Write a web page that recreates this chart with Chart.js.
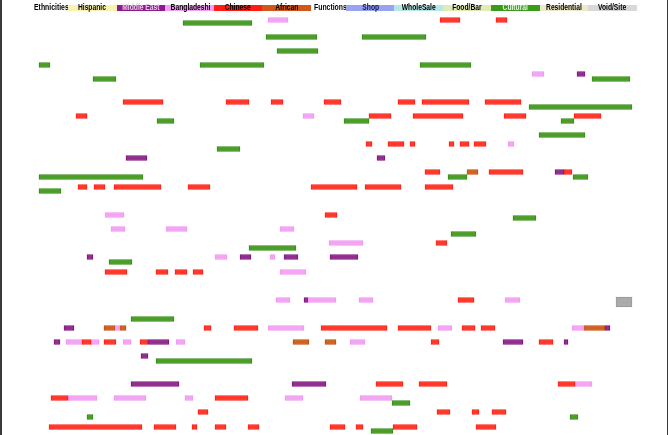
<!DOCTYPE html>
<html>
<head>
<meta charset="utf-8">
<script src="https://cdn.jsdelivr.net/npm/chart.js@4.4.1/dist/chart.umd.min.js"></script>
<style>
  html, body { margin: 0; padding: 0; background: #fff; overflow: hidden; }
  #wrap { position: relative; width: 668px; height: 435px; }
  #frameL { position: absolute; left: 0; top: 0; width: 2px; height: 435px; background: #3a3a3a; z-index: 3; }
  #frameR { position: absolute; right: 0; top: 0; width: 1px; height: 435px; background: #3a3a3a; z-index: 3; }
  #chart { position: absolute; left: 0; top: 0; }
  #legend { position: absolute; left: 0; top: 1px; width: 668px; height: 12px; z-index: 2;
            font-family: "Liberation Sans", Arial, sans-serif; font-size: 8.6px; font-weight: bold; color: #000; }
  #legend .lab, #legend .item { position: absolute; top: 0; height: 12px; line-height: 12px; white-space: nowrap; }
  #legend .lab span { display: inline-block; transform: scaleX(0.8); transform-origin: left center; }
  #legend .item { width: 48.5px; text-align: center; }
  #legend .item .box { position: absolute; left: 0; right: 0; top: 3.5px; height: 6px; }
  #legend .item span { position: relative; display: inline-block; transform: scaleX(0.78); }
</style>
</head>
<body>
<div id="wrap">
  <canvas id="chart" width="668" height="435"></canvas>
  <div id="legend"></div>
  <div id="frameL"></div>
  <div id="frameR"></div>
</div>
<script>
// ---- Data: each segment is [row position, start, end] along the street plan ----
const ethnicityLabels = ["Hispanic", "Middle East", "Bangladeshi", "Chinese", "African"];
const functionLabels  = ["Shop", "WholeSale", "Food/Bar", "Cultural", "Residential", "Void/Site"];

const cultural = [
  [23,183,252],[37,266,317],[37,362,426],[51,277,318],[65,39,50],[65,200,264],[65,420,471],
  [79,93,116],[79,592,630],[107,529,632],[121,157,174],[121,344,369],[121,561,574],[135,539,585],
  [149,217,240],[177,39,143],[177,448,467],[177,573,588],[191,39,61],[218,513,536],[234,451,476],
  [248,249,296],[262,109,132],[319,131,174],[361,156,252],[403,392,410],[417,87,93],[417,570,578],[431,371,393]
];
const chinese = [
  [20,440,460],[20,496,507],
  [102,123,163],[102,226,249],[102,271,283],[102,324,341],[102,398,415],[102,422,469],[102,485,521],
  [116,76,87],[116,369,391],[116,413,463],[116,504,526],[116,574,601],
  [144,366,372],[144,388,404],[144,410,415],[144,449,454],[144,460,469],[144,474,486],
  [172,425,440],[172,489,523],[172,564,572],
  [187,78,87],[187,94,105],[187,114,161],[187,188,210],[187,311,357],[187,365,401],[187,425,453],
  [215,325,337],[243,436,447],
  [272,105,127],[272,156,168],[272,175,187],[272,193,203],
  [300,458,474],
  [328,204,211],[328,234,258],[328,321,387],[328,398,431],[328,462,475],[328,481,495],
  [342,82,91],[342,104,116],[342,140,148],[342,431,439],[342,539,553],
  [384,376,403],[384,419,447],[384,558,575],
  [398,51,68],[398,215,248],
  [412,198,208],[412,437,450],[412,472,479],[412,492,506],
  [427,49,142],[427,154,176],[427,192,197],[427,215,226],[427,248,259],[427,330,345],[427,356,363],[427,393,417],[427,476,496]
];
const bangladeshi = [
  [20,268,288],[74,532,544],[116,303,314],[144,508,514],[215,105,124],[229,111,125],[229,166,187],[229,280,294],
  [243,329,363],[257,215,227],[257,270,275],[272,280,306],[300,276,290],[300,308,336],[300,359,373],[300,505,520],
  [328,115,120],[328,268,304],[328,438,452],[328,572,584],[342,66,82],[342,91,99],[342,123,131],[342,176,185],
  [342,350,365],[384,575,592],[398,68,97],[398,114,146],[398,185,193],[398,285,303],[398,360,392]
];
const middleEast = [
  [74,577,585],[158,126,147],[158,377,385],[172,555,564],[257,87,93],[257,240,251],[257,284,298],[257,330,358],
  [300,304,308],[328,64,74],[328,605,610],[342,54,60],[342,148,169],[342,503,523],[342,564,568],[356,141,148],
  [384,131,179],[384,292,326]
];
const african = [
  [172,467,478],[328,104,115],[328,120,126],[328,584,605],[342,293,309],[342,325,336]
];
const voidSite = [
  [302,616,632]
];

// ---- Legend ----
const legendColors = {
  "Hispanic": ["#f8f3b0", "#000"], "Middle East": ["#8e1a8e", "#e8c8e8"], "Bangladeshi": ["#f2a2f2", "#000"],
  "Chinese": ["#ff1c14", "#000"], "African": ["#d0561a", "#000"],
  "Shop": ["#98a4f0", "#0a1450"], "WholeSale": ["#b6e8e6", "#000"], "Food/Bar": ["#e0ebb6", "#000"],
  "Cultural": ["#3a9a1a", "#e8f8e0"], "Residential": ["#eeeac8", "#000"], "Void/Site": ["#d8d8d8", "#000"]
};
const leg = document.getElementById("legend");
function addLab(t, left){
  const d=document.createElement("div"); d.className="lab"; d.style.left=left+"px";
  const s=document.createElement("span"); s.textContent=t; d.appendChild(s); leg.appendChild(d);
}
function addItem(t, left){
  const d=document.createElement("div"); d.className="item"; d.style.left=left+"px";
  const b=document.createElement("div"); b.className="box"; b.style.background=legendColors[t][0];
  const s=document.createElement("span"); s.textContent=t; s.style.color=legendColors[t][1];
  d.appendChild(b); d.appendChild(s); leg.appendChild(d);
}
addLab("Ethnicities", 34);
ethnicityLabels.forEach((t,i) => addItem(t, 68 + i*48.6));
addLab("Functions", 314);
functionLabels.forEach((t,i) => addItem(t, 346 + i*48.4));

// ---- Chart ----
function toBars(arr){ return arr.map(s => ({ y: s[0], x: [s[1], s[2]] })); }
function ds(label, arr, fill, border, thick){
  return { label, data: toBars(arr), backgroundColor: fill, borderColor: border, borderWidth: 1,
           borderSkipped: false, barThickness: thick || 5, grouped: false };
}
new Chart(document.getElementById("chart"), {
  type: "bar",
  data: {
    datasets: [
      ds("Cultural", cultural, "#4a9e26", "#338a14"),
      ds("Chinese", chinese, "#ff3628", "#ff1e14"),
      ds("Bangladeshi", bangladeshi, "#f5a4f5", "#f096f0"),
      ds("African", african, "#d4601e", "#c04e10"),
      ds("Middle East", middleEast, "#922c90", "#7c147a"),
      ds("Void/Site", voidSite, "#aaaaaa", "#999999", 10)
    ]
  },
  options: {
    indexAxis: "y",
    responsive: false,
    animation: false,
    layout: { padding: 0 },
    plugins: { legend: { display: false }, tooltip: { enabled: false } },
    scales: {
      x: { type: "linear", min: 0, max: 668, offset: false, display: false },
      y: { type: "linear", min: 0, max: 435, reverse: true, offset: false, display: false }
    }
  }
});
</script>
</body>
</html>
